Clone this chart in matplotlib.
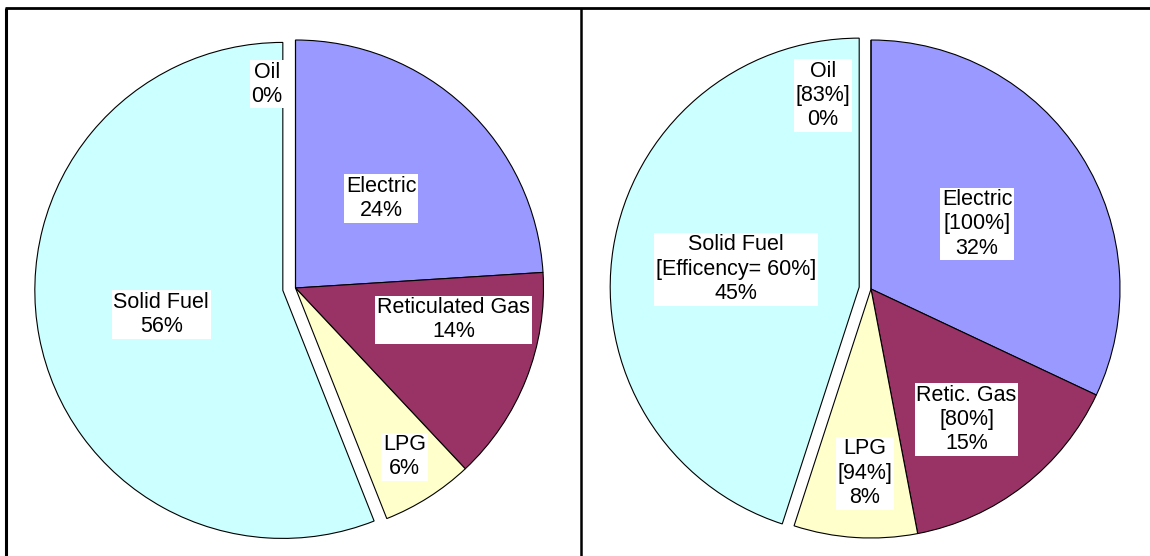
import numpy as np
import matplotlib
matplotlib.use("Agg")
import matplotlib.pyplot as plt

plt.rcParams['font.family'] = ['Liberation Sans', 'DejaVu Sans']

# ---- data ----
categories = ["Electric", "Reticulated Gas", "LPG", "Solid Fuel", "Oil"]
categories_right = ["Electric", "Retic. Gas", "LPG", "Solid Fuel", "Oil"]
share_left = [24, 14, 6, 56, 0]
share_right = [32, 15, 8, 45, 0]
efficiency = ["[100%]", "[80%]", "[94%]", "[Efficency= 60%]", "[83%]"]

colors = ["#9999FF", "#993366", "#FFFFCC", "#CCFFFF", "#FFFFFF"]

# ---- style / layout ----
W, H = 1150, 556
fig = plt.figure(figsize=(W / 100, H / 100), dpi=100)
ax = fig.add_axes([0, 0, 1, 1])
ax.set_xlim(0, W)
ax.set_ylim(0, H)
ax.axis("off")

# frame lines (pixel coords, y from top)
lw_frame = 2.0
ax.plot([5, W], [H - 7.5, H - 7.5], color="black", lw=lw_frame, solid_capstyle="butt")
ax.plot([6, 6], [H - 7.5, 0], color="black", lw=lw_frame * 1.1, solid_capstyle="butt")
ax.plot([580.5, 580.5], [H - 7.5, 0], color="black", lw=lw_frame * 0.9, solid_capstyle="butt")

fs = 15.5


def draw_pie(values, labels, center, radius, explode_frac, label_pos):
    # matplotlib's explode offset is in data units -> scale by radius
    explode = [0, 0, 0, explode_frac * radius, 0]
    wedges, _ = ax.pie(values, colors=colors, startangle=90, counterclock=False,
                       center=center, radius=radius, explode=explode,
                       wedgeprops=dict(edgecolor="black", linewidth=0.8),
                       normalize=True, frame=True)
    for w, lab, (rf, dth) in zip(wedges, labels, label_pos):
        mid = np.deg2rad((w.theta1 + w.theta2) / 2 + dth)
        cx, cy = w.center
        x = cx + rf * radius * np.cos(mid)
        y = cy + rf * radius * np.sin(mid)
        ax.text(x, y, lab, ha="center", va="center", fontsize=fs,
                multialignment="center", linespacing=1.2,
                bbox=dict(boxstyle="square,pad=0.08", fc="white", ec="none"))


labels_left = [f"{c}\n{v}%" for c, v in zip(categories, share_left)]
labels_right = [f"{c}\n{e}\n{v}%" for c, e, v in zip(categories_right, efficiency, share_right)]

pos_left = [(0.50, -0.5), (0.65, 10.2), (0.81, 0.4), (0.50, 0.4), (0.83, 8.0)]
pos_right = [(0.50, -0.9), (0.65, -1.6), (0.74, 1.7), (0.50, 0.7), (0.80, 14.0)]

draw_pie(share_left, labels_left, (295.5, H - 288), 248, 0.052, pos_left)
draw_pie(share_right, labels_right, (871, H - 289), 249, 0.048, pos_right)

ax.set_xlim(0, W)
ax.set_ylim(0, H)
ax.set_aspect("auto")
ax.axis("off")

fig.savefig("out.png", dpi=100, facecolor="white")
